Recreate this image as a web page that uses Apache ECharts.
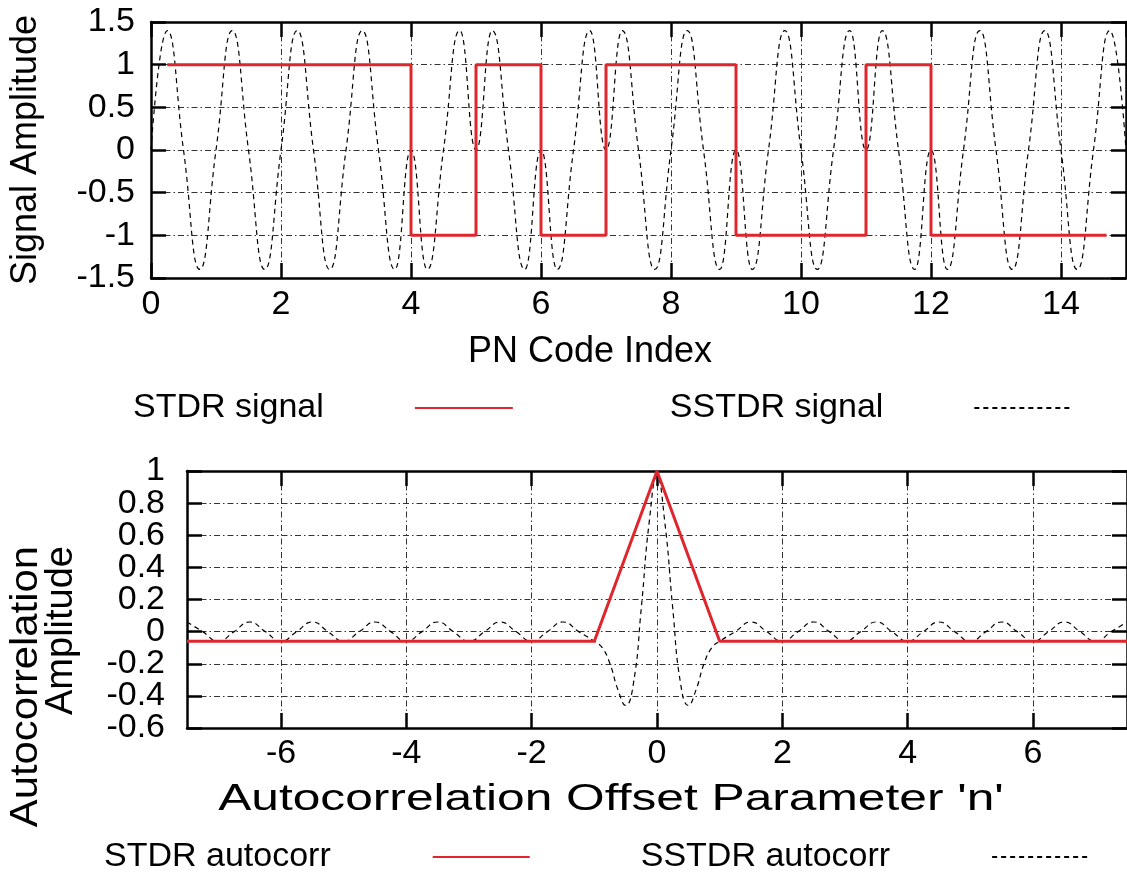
<!DOCTYPE html>
<html><head><meta charset="utf-8">
<script src="https://cdn.jsdelivr.net/npm/echarts@6/dist/echarts.min.js"></script>
<style>html,body{margin:0;padding:0;background:#fff}#c{width:1127px;height:878px}</style>
</head><body><div id="c"></div>
<script>
// ---- data ----
// Top panel: STDR square wave (PN chips) and SSTDR sine-modulated signal
const stdrX = [0.25,1,2,3,4,5,6,7,8,9,10,11,12,13,14,14.7];
const stdrSignal = [1,1,1,1,-1,1,-1,1,1,-1,-1,1,-1,-1,-1,-1];
const sstdrStep = 0.25;
const sstdrSignal = [
  0,1.4,0,-1.4,  0,1.4,0,-1.4,  0,1.4,0,-1.4,  0,1.4,0,-1.4,
  0,-1.4,0,1.4,  0,1.4,0,-1.4,  0,-1.4,0,1.4,  0,1.4,0,-1.4,
  0,1.4,0,-1.4,  0,-1.4,0,1.4,  0,-1.4,0,1.4,  0,1.4,0,-1.4,
  0,-1.4,0,1.4,  0,-1.4,0,1.4,  0,-1.4,0,1.4,  0
];
// Bottom panel: autocorrelations
const stdrAcX = [-7.5,-1,0,1,7.5];
const stdrAc  = [-0.06,-0.06,1,-0.06,-0.06];
const sstdrAcX = [
  -7.5,-7.25,-7,-6.75,-6.5,-6.25,-6,-5.75,-5.5,-5.25,-5,-4.75,-4.5,-4.25,-4,-3.75,-3.5,-3.25,-3,-2.75,-2.5,-2.25,-2,-1.75,-1.5,-1.25,-1,
  -0.875,-0.75,-0.625,-0.5,-0.375,-0.25,-0.125,0,0.125,0.25,0.375,0.5,0.625,0.75,0.875,
  1,1.25,1.5,1.75,2,2.25,2.5,2.75,3,3.25,3.5,3.75,4,4.25,4.5,4.75,5,5.25,5.5,5.75,6,6.25,6.5,6.75,7,7.25,7.5
];
const sstdrAc = [
  0.06,0,-0.06,0,0.06,0,-0.06,0,0.06,0,-0.06,0,0.06,0,-0.06,0,0.06,0,-0.06,0,0.06,0,-0.06,0,0.06,0,-0.06,
  -0.1,-0.2,-0.36,-0.46,-0.32,0.15,0.68,0.97,0.68,0.15,-0.32,-0.46,-0.36,-0.2,-0.1,
  -0.06,0,0.06,0,-0.06,0,0.06,0,-0.06,0,0.06,0,-0.06,0,0.06,0,-0.06,0,0.06,0,-0.06,0,0.06,0,-0.06,0,0.06
];
const acXTicks = [-6,-4,-2,0,2,4,6];
// bottom y tick labels, split in two interleaved sets so crowded labels all show
const acYLabelsA = [-0.6,-0.2,0.2,0.6,1];
const acYLabelsB = [-0.4,0,0.4,0.8];

// ---- styling ----
const FONT = "'Liberation Sans', Arial, Helvetica, sans-serif";
const RED = '#e0262d';
const gridDash = [6,3,1.5,3];

function zip(xs, ys){ return xs.map((x,i)=>[x, ys[i]]); }
const sstdrPts = sstdrSignal.map((v,i)=>[i*sstdrStep, v]);

const border = {show:true, onZero:false, lineStyle:{color:'#000', width:2.5}};
const tick = {show:true, inside:true, length:15, lineStyle:{color:'#000', width:2.5}};
const split = {show:true, lineStyle:{color:'#333', width:1, type:gridDash}};
const lbl = (m)=>({show:true, color:'#000', fontSize:34, fontFamily:FONT, margin:m});

const option = {
  animation:false,
  backgroundColor:'#fff',
  grid:[
    {left:151, top:22, width:975, height:256},
    {left:187, top:471, width:944, height:257}
  ],
  xAxis:[
    {type:'value', gridIndex:0, min:0, max:15, interval:2, position:'bottom',
     axisLine:border, axisTick:tick, splitLine:split,
     axisLabel:Object.assign(lbl(10),{showMinLabel:true, showMaxLabel:false})},
    {type:'value', gridIndex:0, min:0, max:15, interval:2, position:'top',
     axisLine:border, axisTick:tick, splitLine:{show:false}, axisLabel:{show:false}},
    {type:'value', gridIndex:1, min:-7.5, max:7.5, splitNumber:8, position:'bottom',
     axisLine:border,
     axisTick:Object.assign({customValues:acXTicks}, tick),
     splitLine:split,
     axisLabel:Object.assign(lbl(9),{customValues:acXTicks, showMinLabel:true, showMaxLabel:true})},
    {type:'value', gridIndex:1, min:-7.5, max:7.5, splitNumber:8, position:'top',
     axisLine:border, axisTick:Object.assign({customValues:acXTicks}, tick),
     splitLine:{show:false}, axisLabel:{show:false}}
  ],
  yAxis:[
    {type:'value', gridIndex:0, min:-1.5, max:1.5, interval:0.5, position:'left',
     axisLine:border, axisTick:tick, splitLine:split,
     axisLabel:Object.assign(lbl(16),{showMinLabel:true, showMaxLabel:true})},
    {type:'value', gridIndex:0, min:-1.5, max:1.5, interval:0.5, position:'right',
     axisLine:border, axisTick:tick, splitLine:{show:false}, axisLabel:{show:false}},
    {type:'value', gridIndex:1, min:-0.6, max:1, interval:0.2, position:'left',
     axisLine:border, axisTick:tick, splitLine:split,
     axisLabel:Object.assign(lbl(22),{customValues:acYLabelsA, showMinLabel:true, showMaxLabel:true})},
    {type:'value', gridIndex:1, min:-0.6, max:1, interval:0.2, position:'right',
     axisLine:border, axisTick:tick, splitLine:{show:false}, axisLabel:{show:false}},
    {type:'value', gridIndex:1, min:-0.6, max:1, interval:0.2, position:'left', offset:0,
     axisLine:{show:false}, axisTick:{show:false}, splitLine:{show:false},
     axisLabel:Object.assign(lbl(22),{customValues:acYLabelsB, showMinLabel:true, showMaxLabel:true})}
  ],
  legend:[
    {data:['STDR signal','SSTDR signal'], left:133, top:391, padding:0,
     align:'right', itemWidth:98, itemHeight:14, itemGap:156,
     itemStyle:{opacity:0},
     textStyle:{fontSize:34, fontFamily:FONT, color:'#000', padding:[0,86,0,0]}},
    {data:['STDR autocorr','SSTDR autocorr'], left:104, top:840, padding:0,
     align:'right', itemWidth:97, itemHeight:14, itemGap:110,
     itemStyle:{opacity:0},
     textStyle:{fontSize:34, fontFamily:FONT, color:'#000', padding:[0,97,0,0]}}
  ],
  graphic:[
    {type:'text', x:26, y:150, rotation:Math.PI/2,
     style:{text:'Signal Amplitude', font:'36px '+FONT, fill:'#000', align:'center', verticalAlign:'middle'}},
    {type:'text', x:27, y:546, rotation:Math.PI/2, scaleX:1.1,
     style:{text:'Autocorrelation', font:'38px '+FONT, fill:'#000', align:'right', verticalAlign:'middle'}},
    {type:'text', x:62, y:546, rotation:Math.PI/2,
     style:{text:'Amplitude', font:'38px '+FONT, fill:'#000', align:'right', verticalAlign:'middle'}},
    {type:'text', x:590, y:352,
     style:{text:'PN Code Index', font:'36px '+FONT, fill:'#000', align:'center', verticalAlign:'middle'}},
    {type:'text', x:611, y:800, scaleX:1.38,
     style:{text:"Autocorrelation Offset Parameter 'n'", font:'36px '+FONT, fill:'#000', align:'center', verticalAlign:'middle'}}
  ],
  series:[
    {name:'SSTDR signal', type:'line', xAxisIndex:0, yAxisIndex:0, data:sstdrPts,
     smooth:true, symbol:'none', z:2, lineStyle:{color:'#000', width:1.2, type:[5,4]}, itemStyle:{color:'#000'}},
    {name:'STDR signal', type:'line', xAxisIndex:0, yAxisIndex:0, data:zip(stdrX, stdrSignal),
     step:'end', symbol:'none', z:3, lineStyle:{color:RED, width:3}, itemStyle:{color:RED}},
    {name:'SSTDR autocorr', type:'line', xAxisIndex:2, yAxisIndex:2, data:zip(sstdrAcX, sstdrAc),
     smooth:true, symbol:'none', z:2, lineStyle:{color:'#000', width:1.2, type:[5,4]}, itemStyle:{color:'#000'}},
    {name:'STDR autocorr', type:'line', xAxisIndex:2, yAxisIndex:2, data:zip(stdrAcX, stdrAc),
     symbol:'none', z:3, lineStyle:{color:RED, width:3}, itemStyle:{color:RED}}
  ]
};
const chart = echarts.init(document.getElementById('c'), null, {renderer:'canvas'});
chart.setOption(option);
</script>
</body></html>
